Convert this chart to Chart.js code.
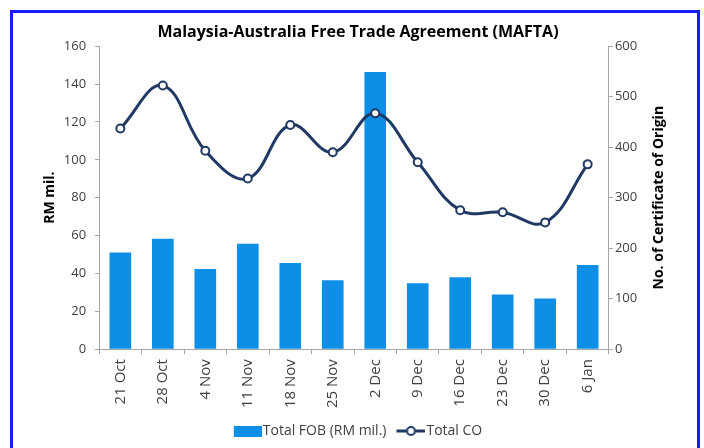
<!DOCTYPE html>
<html><head><meta charset="utf-8">
<script src="https://cdn.jsdelivr.net/npm/chart.js@4"></script>
<style>
html,body{margin:0;padding:0;background:#fff;}
#wrap{position:relative;width:704px;height:448px;}
#frame{position:absolute;left:10px;top:10px;width:684px;height:460px;border:3px solid #1a1aff;pointer-events:none;}
canvas{position:absolute;left:0;top:0;}
</style></head>
<body>
<div id="wrap"><canvas id="c" width="704" height="448"></canvas><div id="frame"></div></div>
<script>
const categories = ["21 Oct","28 Oct","4 Nov","11 Nov","18 Nov","25 Nov","2 Dec","9 Dec","16 Dec","23 Dec","30 Dec","6 Jan"];
const totalFOB = [51, 58.3, 42.3, 55.7, 45.5, 36.4, 146.4, 34.8, 38, 28.8, 26.7, 44.5];
const totalCO = [437, 522, 393, 338, 444, 390, 467, 370, 275, 271, 251, 366];
const leftTicks = [0,20,40,60,80,100,120,140,160];
const rightTicks = [0,100,200,300,400,500,600];

const FONT = "'Open Sans', 'DejaVu Sans', sans-serif";
const barColor = '#0e8fe6';
const lineColor = '#1f3864';
const rightTitle = 'No. of Certificate of Origin';

function legendBox(){
  const c=document.createElement('canvas');c.width=34;c.height=11;
  const g=c.getContext('2d');g.fillStyle=barColor;g.fillRect(6,0,28,11);return c;
}
function legendLine(){
  const c=document.createElement('canvas');c.width=34;c.height=12;
  const g=c.getContext('2d');g.strokeStyle=lineColor;g.lineWidth=3;
  g.beginPath();g.moveTo(5,6);g.lineTo(34,6);g.stroke();
  g.fillStyle='#fff';g.lineWidth=2;g.beginPath();g.arc(19.5,6,4,0,Math.PI*2);g.fill();g.stroke();
  return c;
}

const rightTitlePlugin={
  id:'rightTitle',
  afterDraw(chart){
    const ctx=chart.ctx, a=chart.chartArea;
    ctx.save();
    ctx.font="bold 14px "+FONT;ctx.fillStyle='#000';ctx.textAlign='center';ctx.textBaseline='middle';
    ctx.translate(a.right+50,(a.top+a.bottom)/2);
    ctx.rotate(-Math.PI/2);
    ctx.fillText(rightTitle,0,0);
    ctx.restore();
  }
};

new Chart(document.getElementById('c'),{
  data:{
    labels:categories,
    datasets:[
      {type:'line',label:'Total CO',data:totalCO,yAxisID:'y1',borderColor:lineColor,borderWidth:3,
       tension:0.4,pointRadius:4,pointBackgroundColor:'#fff',pointBorderColor:lineColor,pointBorderWidth:2,order:0},
      {type:'bar',label:'Total FOB (RM mil.)',data:totalFOB,yAxisID:'y',backgroundColor:barColor,
       barPercentage:0.51,categoryPercentage:1,order:1}
    ]
  },
  plugins:[rightTitlePlugin],
  options:{
    responsive:false,animation:false,
    layout:{padding:{left:42,right:30,top:23,bottom:0}},
    plugins:{
      title:{display:true,text:'Malaysia-Australia Free Trade Agreement (MAFTA)',color:'#000',
        font:{family:FONT,size:16,weight:'bold'},padding:{top:0,bottom:4}},
      legend:{position:'bottom',
        labels:{usePointStyle:true,pointStyleWidth:22,color:'#404040',font:{family:FONT,size:14},padding:11,
          generateLabels:(chart)=>[
            {text:'Total FOB (RM mil.)',pointStyle:legendBox(),datasetIndex:1,fontColor:'#404040'},
            {text:'Total CO',pointStyle:legendLine(),datasetIndex:0,fontColor:'#404040'}
          ]}},
      tooltip:{enabled:false}
    },
    scales:{
      x:{grid:{display:true,drawOnChartArea:false,drawTicks:true,tickLength:5,color:'#a6a6a6'},
        border:{color:'#a6a6a6'},
        ticks:{color:'#404040',font:{family:FONT,size:15},minRotation:90,maxRotation:90,padding:5}},
      y:{position:'left',min:0,max:160,
        afterBuildTicks:(ax)=>{ax.ticks=leftTicks.map(v=>({value:v}));},
        grid:{drawOnChartArea:false,drawTicks:true,tickLength:4,color:'#a6a6a6'},
        border:{color:'#a6a6a6'},
        ticks:{color:'#404040',font:{family:FONT,size:13},padding:9},
        title:{display:true,text:'RM mil.',color:'#000',font:{family:FONT,size:14,weight:'bold'},padding:{top:0,bottom:-4}}},
      y1:{position:'right',min:0,max:600,
        afterBuildTicks:(ax)=>{ax.ticks=rightTicks.map(v=>({value:v}));},
        grid:{drawOnChartArea:false,drawTicks:true,tickLength:4,color:'#a6a6a6'},
        border:{color:'#a6a6a6'},
        ticks:{color:'#404040',font:{family:FONT,size:13},padding:2},
        title:{display:true,text:rightTitle,color:'rgba(0,0,0,0)',font:{family:FONT,size:14,weight:'bold'},padding:{top:18,bottom:0}}}
    }
  }
});
</script>
</body></html>
